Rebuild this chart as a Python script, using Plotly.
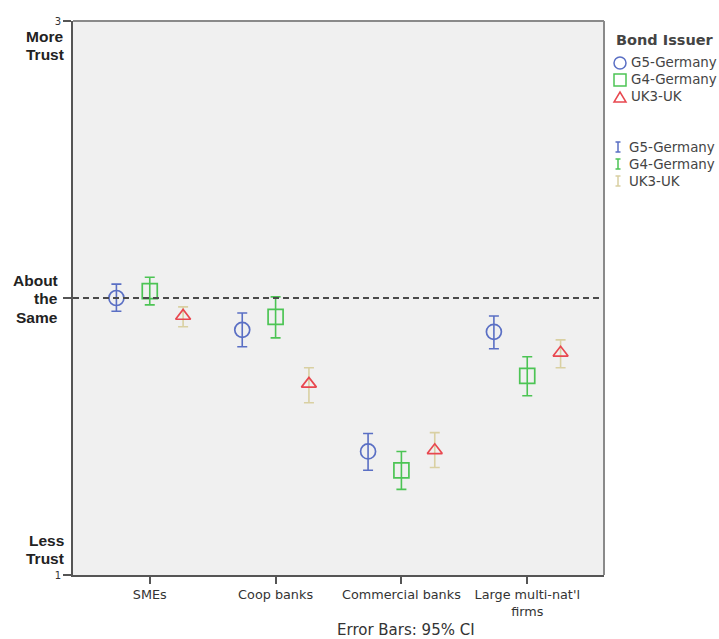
import plotly.graph_objects as go

# Mean trust ratings by institution type, with 95% CI bounds
categories = ["SMEs", "Coop banks", "Commercial banks", "Large multi-nat'l<br>firms"]
issuers = ["G5-Germany", "G4-Germany", "UK3-UK"]

g5_mean = [2.00, 1.885, 1.446, 1.878]
g5_low = [1.952, 1.824, 1.378, 1.817]
g5_high = [2.050, 1.946, 1.511, 1.935]

g4_mean = [2.025, 1.932, 1.378, 1.719]
g4_low = [1.975, 1.856, 1.309, 1.647]
g4_high = [2.075, 2.004, 1.446, 1.788]

uk3_mean = [1.935, 1.690, 1.450, 1.802]
uk3_low = [1.896, 1.622, 1.388, 1.748]
uk3_high = [1.968, 1.748, 1.514, 1.849]

means = [g5_mean, g4_mean, uk3_mean]
lows = [g5_low, g4_low, uk3_low]
highs = [g5_high, g4_high, uk3_high]

offsets = [-0.265, 0.0, 0.265]
symbols = ["circle-open", "square-open", "triangle-up-open"]
marker_colors = ["#5a6fc4", "#4cc454", "#e8474f"]
bar_colors = ["#5a6fc4", "#4cc454", "#d9d0a2"]

fig = go.Figure()

for i, name in enumerate(issuers):
    xs = [k + offsets[i] for k in range(len(categories))]
    m = means[i]
    plus = [h - v for h, v in zip(highs[i], m)]
    minus = [v - l for v, l in zip(m, lows[i])]
    # error bars
    fig.add_trace(go.Scatter(
        x=xs, y=m, mode="markers", showlegend=False,
        marker=dict(size=1, color="rgba(0,0,0,0)"),
        error_y=dict(type="data", symmetric=False, array=plus, arrayminus=minus,
                     color=bar_colors[i], thickness=1.6, width=5),
        hoverinfo="skip",
    ))
    # mean markers
    fig.add_trace(go.Scatter(
        x=xs, y=m, mode="markers", name=name, showlegend=False,
        marker=dict(symbol=symbols[i], size=15 if i < 2 else 13,
                    color=marker_colors[i], line=dict(width=1.7, color=marker_colors[i])),
    ))

# plot area in pixels
L, R, T, B = 73, 604, 21, 575
W, H = 719, 639


def px(xp):
    return (xp - L) / (R - L)


def py(yp):
    return (B - yp) / (B - T)


shapes = []
annotations = []

# reference line at "About the Same"
shapes.append(dict(type="line", xref="paper", yref="y", x0=0, x1=1, y0=2, y1=2,
                   line=dict(color="#4a4a4a", width=2, dash="6px,4px")))

# frame: top and right edges
shapes.append(dict(type="line", xref="paper", yref="paper", x0=0, x1=1, y0=1, y1=1,
                   line=dict(color="#8a8a8a", width=2)))
shapes.append(dict(type="line", xref="paper", yref="paper", x0=1, x1=1, y0=0, y1=1,
                   line=dict(color="#8a8a8a", width=2)))

# y-axis word labels, one line each
word_font = dict(family="Liberation Sans", size=15.5, color="#222222")
word_lines = [
    ("More", 37, 65), ("Trust", 55, 66),
    ("About", 280, 60), ("the", 298, 60), ("Same", 317, 60),
    ("Less", 540, 66), ("Trust", 558, 66),
]
for word, yp, xr in word_lines:
    annotations.append(dict(text="<b>" + word + "</b>", xref="paper", yref="paper",
                            x=px(xr), y=py(yp), xanchor="right", yanchor="middle",
                            showarrow=False, font=word_font))

# footnote
annotations.append(dict(text="Error Bars: 95% CI", xref="paper", yref="paper",
                        x=px(406), y=py(630), xanchor="center", yanchor="middle",
                        showarrow=False, font=dict(family="DejaVu Sans", size=15, color="#333333")))

# legend: marker group
leg_font = dict(family="DejaVu Sans", size=13.4, color="#444444")
annotations.append(dict(text="<b>Bond Issuer</b>", xref="paper", yref="paper",
                        x=px(614), y=py(40), xanchor="left", yanchor="middle",
                        showarrow=False, font=dict(family="DejaVu Sans", size=14.5, color="#444444")))

marker_rows = [63, 80, 97]
for i, name in enumerate(issuers):
    yc = py(marker_rows[i])
    xc = px(620)
    col = marker_colors[i]
    if i == 0:
        shapes.append(dict(type="circle", xref="paper", yref="paper", xsizemode="pixel",
                           ysizemode="pixel", xanchor=xc, yanchor=yc, x0=-6, x1=6, y0=-6, y1=6,
                           line=dict(color=col, width=1.5)))
    elif i == 1:
        shapes.append(dict(type="rect", xref="paper", yref="paper", xsizemode="pixel",
                           ysizemode="pixel", xanchor=xc, yanchor=yc, x0=-6, x1=6, y0=-6, y1=6,
                           line=dict(color=col, width=1.5)))
    else:
        shapes.append(dict(type="path", xref="paper", yref="paper", xsizemode="pixel",
                           ysizemode="pixel", xanchor=xc, yanchor=yc,
                           path="M -6 -5 L 6 -5 L 0 5 Z",
                           line=dict(color=col, width=1.5)))
    annotations.append(dict(text=name, xref="paper", yref="paper", x=px(629), y=yc,
                            xanchor="left", yanchor="middle", showarrow=False, font=leg_font))

# legend: error-bar group
bar_rows = [147, 164, 181]
for i, name in enumerate(issuers):
    yc = py(bar_rows[i])
    xc = px(618)
    col = bar_colors[i]
    shapes.append(dict(type="path", xref="paper", yref="paper", xsizemode="pixel",
                       ysizemode="pixel", xanchor=xc, yanchor=yc,
                       path="M -2.5 -5 L 2.5 -5 M 0 -5 L 0 5 M -2.5 5 L 2.5 5",
                       line=dict(color=col, width=1.5)))
    annotations.append(dict(text=name, xref="paper", yref="paper", x=px(627), y=yc,
                            xanchor="left", yanchor="middle", showarrow=False, font=leg_font))

fig.update_layout(
    width=W, height=H,
    margin=dict(l=L, r=W - R, t=T, b=H - B),
    paper_bgcolor="white",
    plot_bgcolor="#f0f0f0",
    showlegend=False,
    shapes=shapes,
    annotations=annotations,
    xaxis=dict(
        range=[-0.61, 3.61], tickmode="array", tickvals=list(range(len(categories))),
        ticktext=categories, ticks="outside", ticklen=7, tickwidth=2, tickcolor="#555555",
        showline=True, linecolor="#555555", linewidth=2, showgrid=False, zeroline=False,
        tickfont=dict(family="DejaVu Sans", size=12.8, color="#333333"),
        fixedrange=True,
    ),
    yaxis=dict(
        range=[1, 3], tickmode="array", tickvals=[1, 2, 3], ticktext=["1", "", "3"],
        ticks="outside", ticklen=8, tickwidth=2, tickcolor="#555555",
        showline=True, linecolor="#555555", linewidth=2, showgrid=False, zeroline=False,
        tickfont=dict(family="DejaVu Sans", size=10, color="#333333"),
        fixedrange=True,
    ),
)

fig.write_html("out.html")
